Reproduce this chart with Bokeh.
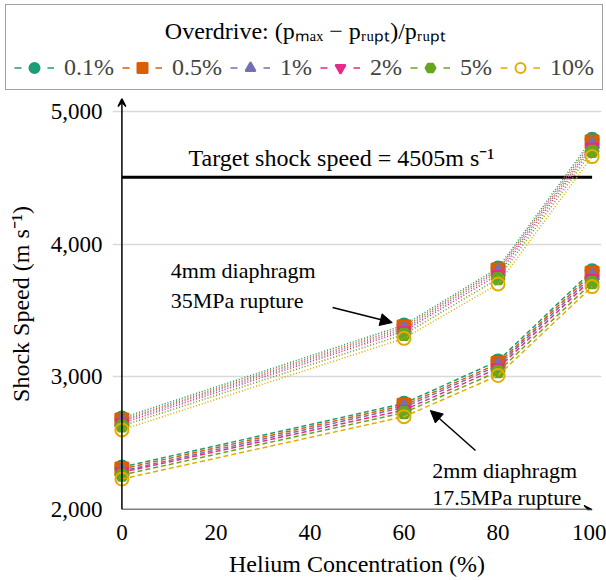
from bokeh.plotting import figure
from bokeh.layouts import column
from bokeh.models import (Range1d, Label, Arrow, NormalHead, VeeHead, Legend, LegendItem,
                          NumeralTickFormatter, FixedTicker)
from bokeh.embed import file_html
from bokeh.resources import INLINE

helium = [0, 60, 80, 100]
overdrive_labels = ["0.1%", "0.5%", "1%", "2%", "5%", "10%"]
colors = ["#1b9e77", "#d95f02", "#7570b3", "#e7298a", "#66a61e", "#e6ab02"]
markers = ["circle", "square", "triangle", "inverted_triangle", "hex", "circle"]

# 4mm diaphragm, 35MPa rupture (dotted)
d4_0p1 = [2690, 3390, 3820, 4790]
d4_0p5 = [2675, 3375, 3805, 4770]
d4_1 = [2665, 3360, 3790, 4750]
d4_2 = [2650, 3345, 3770, 4730]
d4_5 = [2630, 3320, 3740, 4700]
d4_10 = [2600, 3290, 3700, 4660]

# 2mm diaphragm, 17.5MPa rupture (dashed)
d2_0p1 = [2320, 2800, 3120, 3800]
d2_0p5 = [2305, 2785, 3100, 3780]
d2_1 = [2290, 2770, 3085, 3760]
d2_2 = [2280, 2750, 3065, 3740]
d2_5 = [2260, 2730, 3040, 3710]
d2_10 = [2230, 2700, 3010, 3680]

target_speed = 4505
y_ticks = [2000, 3000, 4000, 5000]
x_ticks = [0, 20, 40, 60, 80, 100]

FONT = "'Liberation Serif', 'Times New Roman', serif"
upper = [d4_0p1, d4_0p5, d4_1, d4_2, d4_5, d4_10]
lower = [d2_0p1, d2_0p5, d2_1, d2_2, d2_5, d2_10]

# ---------------- main plot ----------------
p = figure(width=606, height=486, x_range=Range1d(-2, 102), y_range=Range1d(2000, 5098),
           output_backend="svg", toolbar_location=None,
           min_border_left=112, min_border_right=5, min_border_top=4, min_border_bottom=71)
p.frame_align = False
p.outline_line_color = None
p.xgrid.grid_line_color = None
p.ygrid.grid_line_color = "#d9d9d9"
p.ygrid.grid_line_width = 1.5
p.ygrid.ticker = FixedTicker(ticks=y_ticks)

p.yaxis.ticker = FixedTicker(ticks=y_ticks)
p.xaxis.ticker = FixedTicker(ticks=x_ticks)
p.yaxis.formatter = NumeralTickFormatter(format="0,0")
for ax in (p.xaxis[0], p.yaxis[0]):
    ax.axis_line_color = None
    ax.major_tick_line_color = None
    ax.minor_tick_line_color = None
    ax.major_label_text_font = FONT
    ax.major_label_text_font_size = "23px"
    ax.major_label_text_color = "black"
    ax.axis_label_text_font = FONT
    ax.axis_label_text_font_size = "24px"
    ax.axis_label_text_font_style = "normal"
    ax.axis_label_text_color = "black"
p.xaxis.axis_label = "Helium Concentration (%)"
p.yaxis.axis_label = "Shock Speed (m s\u207b\u00b9)"
p.xaxis.major_label_standoff = 9
p.yaxis.major_label_standoff = 4
p.xaxis.axis_label_standoff = 8
p.yaxis.axis_label_standoff = 14

# axis lines with arrows
p.add_layout(Arrow(x_start=0, y_start=2000, x_end=0, y_end=5098, line_width=1.5,
                   end=VeeHead(size=8, line_width=1.2, fill_color="black")))
p.add_layout(Arrow(x_start=0, y_start=2000, x_end=100, y_end=2000, line_width=1.5,
                   end=VeeHead(size=8, line_width=1.2, fill_color="black")))

# target line
p.segment(x0=[helium[0]], x1=[helium[-1]], y0=[target_speed], y1=[target_speed],
          line_color="black", line_width=3)

for lab, col, mk, up, lo in zip(overdrive_labels, colors, markers, upper, lower):
    p.line(helium, up, line_color=col, line_width=1.6, line_dash="1 2")
    p.line(helium, lo, line_color=col, line_width=1.5, line_dash="5 3")
    fill = None if lab == "10%" else col
    kw = dict(marker=mk, size=13, line_color=col, fill_color=fill, line_width=2)
    p.scatter(helium, up, **kw)
    p.scatter(helium, lo, **kw)

tf = dict(text_font=FONT, text_color="black", text_baseline="middle")
p.add_layout(Label(x=46.7, y=4646, text="Target shock speed = 4505m s\u207b\u00b9",
                   text_align="center", text_font_size="24px", **tf))
p.add_layout(Label(x=10.4, y=3801, text="4mm diaphragm", text_font_size="22px", **tf))
p.add_layout(Label(x=10.4, y=3575, text="35MPa rupture", text_font_size="22px", **tf))
p.add_layout(Label(x=66, y=2294, text="2mm diaphragm", text_font_size="22px", **tf))
p.add_layout(Label(x=66, y=2090, text="17.5MPa rupture", text_font_size="22px", **tf))

p.add_layout(Arrow(x_start=44.8, y_start=3523, x_end=57.5, y_end=3409, line_width=1.5,
                   end=NormalHead(size=12, fill_color="black")))
p.add_layout(Arrow(x_start=75.2, y_start=2445, x_end=65.6, y_end=2746, line_width=1.5,
                   end=NormalHead(size=12, fill_color="black")))

# ---------------- legend strip ----------------
# its renderers carry the real series but fall outside this strip's (0..1) view
leg = figure(width=606, height=94, x_range=Range1d(0, 1), y_range=Range1d(0, 1),
             output_backend="svg", toolbar_location=None,
             x_axis_location=None, y_axis_location=None, min_border=0)
leg.frame_align = False
leg.outline_line_color = None
leg.grid.visible = False

items = []
for lab, col, mk, lo in zip(overdrive_labels, colors, markers, lower):
    lr = leg.line(helium, lo, line_color=col, line_width=1.5, line_dash="7 26")
    fill = None if lab == "10%" else col
    sr = leg.scatter(helium, lo, marker=mk, line_color=col, fill_color=fill, line_width=2)
    items.append(LegendItem(label=lab, renderers=[lr, sr]))

legend = Legend(items=items, orientation="horizontal", location=(5, 4),
                title=" ", title_text_font=FONT, title_text_font_size="24px",
                label_text_font=FONT, label_text_font_size="24px",
                glyph_width=40, glyph_height=25, label_standoff=10, spacing=8,
                padding=8, margin=0, title_standoff=14,
                background_fill_color=None,
                border_line_color="#444444", border_line_width=1.5)
leg.add_layout(legend, "center")
leg.add_layout(Label(x=305, y=64, x_units="screen", y_units="screen",
                     text="Overdrive: (p\u2098\u2090\u2093 \u2212 p\u1d63\u1d64\u209a\u209c)/p\u1d63\u1d64\u209a\u209c",
                     text_font=FONT, text_font_size="24px", text_align="center",
                     text_baseline="middle", text_color="black"))

open("out.html", "w").write(file_html(column(leg, p), INLINE))
